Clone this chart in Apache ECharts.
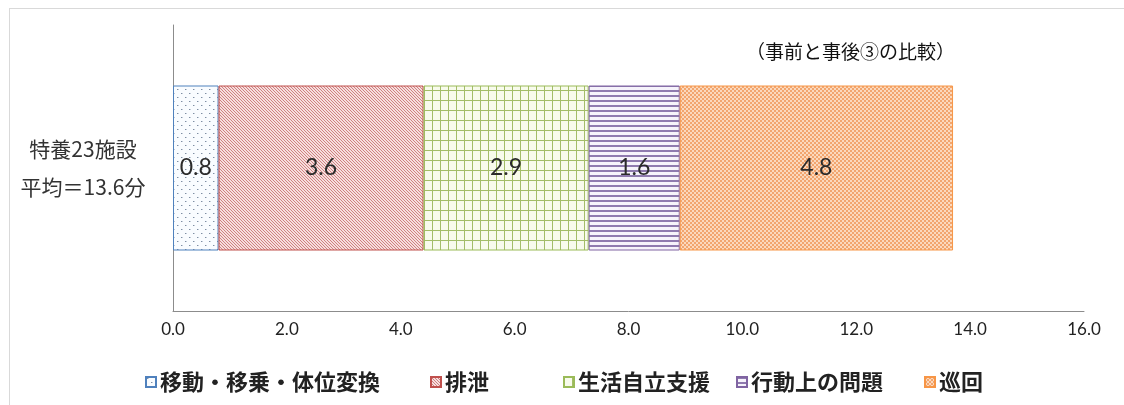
<!DOCTYPE html>
<html>
<head>
<meta charset="utf-8">
<script src="https://cdn.jsdelivr.net/npm/echarts@6/dist/echarts.min.js"></script>
<style>
  html, body { margin: 0; padding: 0; background: #fff; }
  #frame { position: absolute; left: 9px; top: 8px; right: -2px; bottom: -2px; border: 1px solid #d9d9d9; }
  #chart { width: 1124px; height: 405px; position: absolute; left: 0; top: 0; }
</style>
</head>
<body>
<div id="frame"></div>
<div id="chart"></div>
<script>
// Categories, series names and values
const categories = ['特養23施設\n平均＝13.6分'];
const seriesNames = ['移動・移乗・体位変換', '排泄', '生活自立支援', '行動上の問題', '巡回'];
const moveValues = [0.8];
const toiletValues = [3.6];
const lifeValues = [2.9];
const behaviorValues = [1.6];
const patrolValues = [4.8];
const xTicks = { min: 0, max: 16, interval: 2 };
const subtitle = '（事前と事後③の比較）';

// Small repeating canvas tiles used as fill patterns
function tile(w, h, draw) {
  const c = document.createElement('canvas');
  c.width = w; c.height = h;
  const g = c.getContext('2d');
  draw(g, w, h);
  return c;
}
const dots = tile(8, 8, (g, w, h) => {
  g.fillStyle = '#f9fcff'; g.fillRect(0, 0, w, h);
  g.fillStyle = '#7e8ea3';
  g.fillRect(1, 1, 1, 1); g.fillRect(5, 5, 1, 1);
  g.fillStyle = '#c3ccd8';
  g.fillRect(2, 1, 1, 1); g.fillRect(6, 5, 1, 1);
});
const diag = tile(6, 6, (g, w, h) => {
  g.fillStyle = '#f6dede'; g.fillRect(0, 0, w, h);
  g.fillStyle = '#cf8180';
  for (let i = 0; i < w; i++) {
    g.fillRect(i, i, 1, 1);
    g.fillRect((i + 3) % w, i, 1, 1);
  }
});
const grid = tile(8, 10, (g, w, h) => {
  g.fillStyle = '#f8fbec'; g.fillRect(0, 0, w, h);
  g.fillStyle = '#a3bd68';
  g.fillRect(0, 0, w, 1); g.fillRect(0, 0, 1, h);
});
const hlines = tile(4, 5, (g, w, h) => {
  g.fillStyle = '#f6f3fb'; g.fillRect(0, 0, w, h);
  g.fillStyle = '#8f7aaf';
  g.fillRect(0, 0, w, 2);
});
const checker = tile(4, 4, (g, w, h) => {
  g.fillStyle = '#fbd9bd'; g.fillRect(0, 0, w, h);
  g.fillStyle = '#f2a56e';
  g.fillRect(0, 0, 2, 2); g.fillRect(2, 2, 2, 2);
});

const styles = [
  { img: dots, border: '#4f81bd' },
  { img: diag, border: '#c0504d' },
  { img: grid, border: '#9bbb59' },
  { img: hlines, border: '#8064a2' },
  { img: checker, border: '#f79646' }
];
const valueLists = [moveValues, toiletValues, lifeValues, behaviorValues, patrolValues];
// left edge of each legend entry
const legendLefts = [140, 425, 558, 731, 919];

const numFont = 'Lato, "Noto Sans", sans-serif';
const jpFont = '"Noto Sans CJK JP", sans-serif';

const series = seriesNames.map((name, i) => ({
  name,
  type: 'bar',
  stack: 'total',
  barWidth: 165,
  data: valueLists[i],
  itemStyle: {
    color: { image: styles[i].img, repeat: 'repeat' },
    borderColor: styles[i].border,
    borderWidth: 1
  },
  label: {
    show: true,
    position: 'inside',
    formatter: p => p.value.toFixed(1),
    fontFamily: numFont,
    fontSize: 23,
    color: '#2b2b2b'
  }
}));

const legends = seriesNames.map((name, i) => ({
  data: [name],
  left: legendLefts[i],
  top: 366,
  itemWidth: 10,
  itemHeight: 10,
  itemGap: 4,
  icon: 'rect',
  textStyle: { fontFamily: jpFont, fontSize: 22, fontWeight: 'bold', color: '#222', padding: [0, 0, 0, -1] }
}));

const chart = echarts.init(document.getElementById('chart'), null, { renderer: 'canvas' });
chart.setOption({
  animation: false,
  backgroundColor: 'transparent',
  title: {
    text: subtitle,
    left: 741,
    top: 37,
    textStyle: { fontFamily: jpFont, fontSize: 19, fontWeight: 'normal', color: '#111' }
  },
  grid: { left: 173, right: 40, top: 25, bottom: 94 },
  legend: legends,
  xAxis: {
    type: 'value',
    min: xTicks.min,
    max: xTicks.max,
    interval: xTicks.interval,
    axisLine: { show: true, lineStyle: { color: '#8c8c8c', width: 1 } },
    axisTick: { show: false },
    splitLine: { show: false },
    axisLabel: {
      formatter: v => v.toFixed(1),
      margin: 10,
      fontFamily: numFont,
      fontSize: 17,
      color: '#222'
    }
  },
  yAxis: {
    type: 'category',
    data: categories,
    axisLine: { show: true, lineStyle: { color: '#8c8c8c', width: 1 } },
    axisTick: { show: false },
    axisLabel: {
      margin: 90,
      align: 'center',
      lineHeight: 38,
      fontFamily: jpFont,
      fontSize: 21,
      color: '#333'
    }
  },
  series
});
</script>
</body>
</html>
